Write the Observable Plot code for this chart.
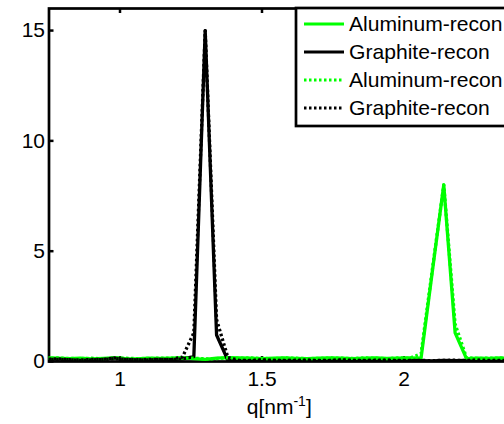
<!DOCTYPE html>
<html>
<head>
<meta charset="utf-8">
<script src="https://cdn.jsdelivr.net/npm/d3@7"></script>
<script src="https://cdn.jsdelivr.net/npm/@observablehq/plot@0.6"></script>
<style>
  html, body { margin: 0; padding: 0; background: white; overflow: hidden; }
  #chart { width: 504px; height: 424px; }
</style>
</head>
<body>
<div id="chart"></div>
<script>
// q grid (nm^-1)
const q = [0.74,0.78,0.82,0.86,0.90,0.94,0.98,1.02,1.06,1.10,1.14,1.18,1.22,1.26,1.30,1.34,1.38,1.42,1.46,1.50,1.54,1.58,1.62,1.66,1.70,1.74,1.78,1.82,1.86,1.90,1.94,1.98,2.02,2.06,2.10,2.14,2.18,2.22,2.26,2.30,2.34,2.38];

const aluminumSolid = [0.16,0.15,0.13,0.15,0.12,0.14,0.16,0.13,0.12,0.15,0.14,0.15,0.17,0.13,0.1,0.15,0.18,0.16,0.15,0.13,0.15,0.16,0.14,0.13,0.15,0.16,0.15,0.13,0.15,0.16,0.14,0.15,0.16,0.15,4.1,8.0,1.3,0.13,0.15,0.14,0.16,0.15];
const graphiteSolid = [0.1,0.12,0.08,0.05,0.07,0.1,0.16,0.09,0.07,0.09,0.1,0.08,0.12,0.22,15.0,1.2,0.05,0.04,0.05,0.07,0.05,0.04,0.06,0.05,0.04,0.05,0.07,0.05,0.04,0.06,0.05,0.04,0.05,0.04,0.03,0.05,0.04,0.05,0.06,0.04,0.05,0.04];
const aluminumDotted = [0.15,0.16,0.14,0.13,0.15,0.12,0.16,0.15,0.13,0.14,0.15,0.15,0.16,0.15,0.12,0.13,0.17,0.15,0.16,0.14,0.13,0.16,0.15,0.13,0.14,0.16,0.15,0.14,0.16,0.15,0.13,0.16,0.15,0.35,4.2,8.0,1.7,0.17,0.14,0.15,0.15,0.14];
const graphiteDotted = [0.09,0.1,0.08,0.07,0.09,0.09,0.13,0.1,0.08,0.07,0.1,0.09,0.2,1.3,15.0,1.9,0.18,0.05,0.04,0.06,0.05,0.05,0.04,0.06,0.05,0.04,0.06,0.05,0.05,0.04,0.06,0.05,0.04,0.05,0.04,0.05,0.06,0.04,0.05,0.05,0.04,0.05];

const seriesNames = ["Aluminum-recon","Graphite-recon","Aluminum-recon","Graphite-recon"];
const seriesColors = ["#00ff00","#000000","#00ff00","#000000"];
const seriesDash = [null, null, "2.5,2.5", "2.5,2.5"];
const seriesValues = [aluminumSolid, graphiteSolid, aluminumDotted, graphiteDotted];

const xDomain = [0.75, 2.375];
const yDomain = [0, 16];
const xTicks = [1, 1.5, 2];
const xTickLabels = ["1", "1.5", "2"];
const yTicks = [0, 5, 10, 15];
const yTickLabels = ["0", "5", "10", "15"];

const FONT = "'Liberation Sans', Arial, Helvetica, sans-serif";
const FS = 21;
const LFS = 21.1;

const lineMarks = seriesValues.map((vals, i) =>
  Plot.line(vals, {
    x: q, y: d => d,
    stroke: seriesColors[i],
    strokeWidth: 3.3,
    strokeDasharray: seriesDash[i] || undefined,
    strokeLinecap: "butt",
    clip: true
  })
);

const plot = Plot.plot({
  width: 504,
  height: 424,
  marginLeft: 48.5,
  marginRight: -6,
  marginTop: 8,
  marginBottom: 63,
  style: {fontFamily: FONT, fontSize: FS + "px", background: "white", color: "black"},
  x: {domain: xDomain, axis: null},
  y: {domain: yDomain, axis: null},
  marks: [
    Plot.frame({stroke: "black", strokeWidth: 2.7}),
    // inward ticks
    Plot.ruleX(xTicks, {x: d => d, y1: () => yDomain[1], y2: () => yDomain[1], insetBottom: -5, stroke: "black", strokeWidth: 2.5}),
    Plot.ruleX(xTicks, {x: d => d, y1: () => yDomain[0], y2: () => yDomain[0], insetTop: -5, stroke: "black", strokeWidth: 2.5}),
    Plot.ruleY(yTicks, {y: d => d, x1: () => xDomain[0], x2: () => xDomain[0], insetRight: -5, stroke: "black", strokeWidth: 2.5}),
    Plot.axisX({ticks: xTicks, tickSize: 0, tickPadding: 10, fontSize: FS, label: null, tickFormat: d => xTickLabels[xTicks.indexOf(d)]}),
    Plot.axisY({ticks: yTicks, tickSize: 0, tickPadding: 4, fontSize: FS, label: null, tickFormat: d => yTickLabels[yTicks.indexOf(d)]}),
    ...lineMarks
  ]
});

document.getElementById("chart").appendChild(plot);

const svg = d3.select(plot);
const xs = plot.scale("x");
const ys = plot.scale("y");
const xMid = (xs.range[0] + xs.range[1]) / 2;

// x label with superscript
const lab = svg.append("text")
  .attr("x", xMid)
  .attr("y", 414)
  .attr("text-anchor", "middle")
  .attr("font-family", FONT)
  .attr("font-size", FS)
  .attr("fill", "black");
lab.append("tspan").text("q[nm");
lab.append("tspan").attr("font-size", 14).attr("dy", -8).text("-1");
lab.append("tspan").attr("dy", 8).text("]");

// legend
const lg = svg.append("g").attr("text-anchor", "start");
const boxX = 296, boxY = ys.range[1], boxH = 118;
lg.append("rect")
  .attr("x", boxX).attr("y", boxY)
  .attr("width", 240).attr("height", boxH)
  .attr("fill", "white").attr("stroke", "black").attr("stroke-width", 2.7);
const rowY = [24, 52, 80, 108];
seriesNames.forEach((name, i) => {
  lg.append("line")
    .attr("x1", 304).attr("x2", 344)
    .attr("y1", rowY[i]).attr("y2", rowY[i])
    .attr("stroke", seriesColors[i])
    .attr("stroke-width", 3)
    .attr("stroke-dasharray", seriesDash[i]);
  lg.append("text")
    .attr("x", 349).attr("y", rowY[i])
    .attr("dy", "0.35em")
    .attr("text-anchor", "start")
    .attr("font-family", FONT)
    .attr("font-size", LFS)
    .attr("fill", "black")
    .text(name);
});
</script>
</body>
</html>
